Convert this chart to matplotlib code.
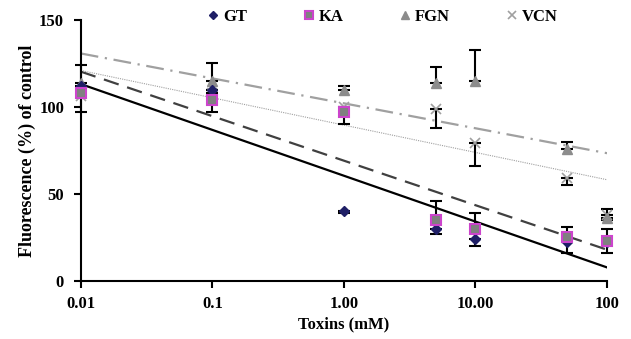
import numpy as np
import matplotlib
matplotlib.use("Agg")
import matplotlib.pyplot as plt

plt.rcParams['font.family'] = ['Liberation Serif', 'DejaVu Serif']
plt.rcParams['font.weight'] = 'bold'

# toxin concentrations (mM)
conc = [0.01, 0.1, 1, 5, 10, 50, 100]
tick_vals = [0.01, 0.1, 1, 10, 100]
tick_labels = ['0.01', '0.1', '1.00', '10.00', '100']

# fluorescence (% of control)
gt = [112, 110, 40, 29.5, 24, 22, 22]
ka = [108, 104, 97, 35, 30, 25, 23]
fgn = [114, 115, 110, 114, 115, 76, 36]
vcn = [106, 108, 100, 99, 79, 59, 38]

# error bars (one-sided as seen in the figure)
gt_err = [2, 2, 1, 2.5, 4, 6, 6]
ka_err = [3, 3, 3, 11, 9, 6, 7]
fgn_err = [10, 10, 2, 9, 18, 4, 5]
vcn_err = [9, 11, 10, 11, 13, 4, 3]

fig = plt.figure(figsize=(6.31, 3.39), dpi=100)
ax = fig.add_axes([0.128, 0.172, 0.834, 0.769])

x = np.array(conc)
lx = np.log10(x)
zeros = np.zeros(len(x))

# trendlines (log fit)
xs = np.array([0.01, 100])
fits = [
    (gt, dict(color='black', lw=1.6, ls='-')),
    (ka, dict(color='#404040', lw=1.6, ls=(0, (7, 4)))),
    (fgn, dict(color='#a0a0a0', lw=1.6, ls=(0, (8, 3, 1, 3)))),
    (vcn, dict(color='#a0a0a0', lw=0.8, ls=(0, (1, 1)))),
]
for ys, st in fits:
    a, b = np.polyfit(lx, ys, 1)
    ax.plot(xs, a * np.log10(xs) + b, zorder=2, **st)

ekw = dict(fmt='none', ecolor='black', elinewidth=1.5, capsize=4, capthick=1.5,
           zorder=3, clip_on=False)
ax.errorbar(x, fgn, yerr=[zeros, fgn_err], **ekw)
ax.errorbar(x, ka, yerr=[zeros, ka_err], **ekw)
ax.errorbar(x, gt, yerr=[gt_err, zeros], **ekw)
ax.errorbar(x, vcn, yerr=[vcn_err, zeros], **ekw)

ax.plot(x, vcn, ls='none', marker='x', ms=7, mew=1.2, color='#a0a0a0', label='VCN',
        zorder=4, clip_on=False)
ax.plot(x, fgn, ls='none', marker='^', ms=7, color='#8c8c8c', label='FGN',
        zorder=4, clip_on=False)
ax.plot(x, gt, ls='none', marker='D', ms=5, color='#1f1f66', label='GT',
        zorder=5, clip_on=False)
ax.plot(x, ka, ls='none', marker='s', ms=7, mfc='#808080', mec='#cc44cc', mew=1.5,
        label='KA', zorder=6, clip_on=False)

ax.set_xscale('log')
ax.set_xlim(0.01, 100)
ax.set_ylim(0, 150)
ax.set_yticks([0, 50, 100, 150])
ax.set_xticks(tick_vals)
ax.set_xticklabels(tick_labels)
ax.xaxis.set_minor_locator(matplotlib.ticker.NullLocator())
for s in ['top', 'right']:
    ax.spines[s].set_visible(False)
for s in ['left', 'bottom']:
    ax.spines[s].set_linewidth(1.5)
ax.tick_params(width=1.5, length=5, labelsize=12)
ax.tick_params(axis='y', pad=7)
ax.tick_params(axis='x', pad=6)
for lab in ax.get_xticklabels() + ax.get_yticklabels():
    lab.set_fontweight('bold')
ax.set_xlabel('Toxins (mM)', fontsize=12, fontweight='bold', labelpad=3)
ax.set_ylabel('Fluorescence (%) of control', fontsize=13, fontweight='bold', labelpad=2)

h, l = ax.get_legend_handles_labels()
order = [l.index(n) for n in ['GT', 'KA', 'FGN', 'VCN']]
fig.legend([h[i] for i in order], [l[i] for i in order], loc='center left',
           bbox_to_anchor=(198 / 631, 0.95), ncol=4, frameon=False,
           columnspacing=3.3, handletextpad=0.2, handlelength=0.8, borderpad=0,
           markerscale=0.85, prop=dict(weight='bold', size=12))

fig.savefig('out.png', dpi=100)
